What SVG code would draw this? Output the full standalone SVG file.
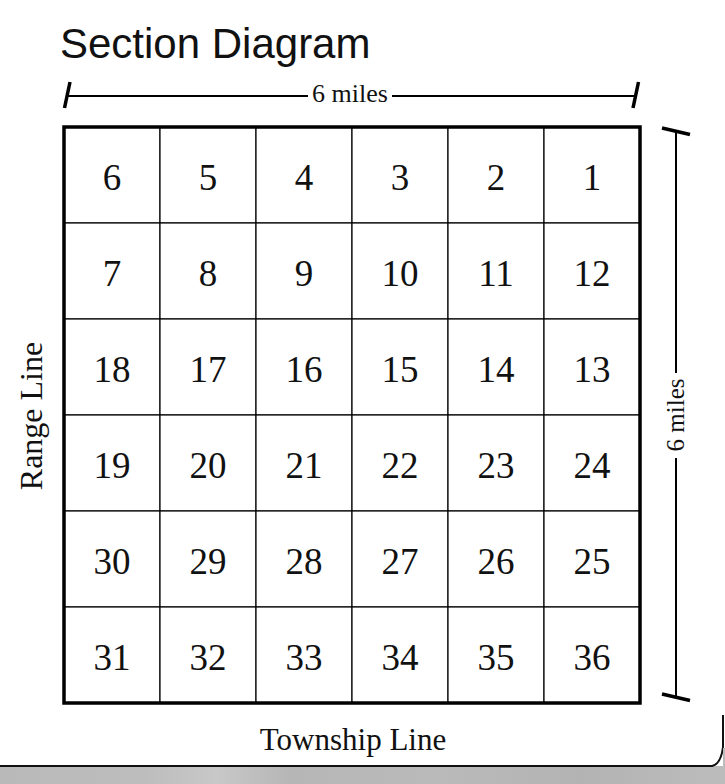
<svg xmlns="http://www.w3.org/2000/svg" width="725" height="784" viewBox="0 0 725 784">
<defs>
<style>
.num{font-family:"Liberation Serif","Times New Roman",serif;font-size:37px;fill:#111;text-anchor:middle}
.lbl{font-family:"Liberation Serif","Times New Roman",serif;fill:#111;text-anchor:middle}
.cell{fill:#fff;stroke:#000;stroke-width:1.2}
.dim{stroke:#000;stroke-width:2;fill:none}
.tick{stroke:#000;stroke-width:3.5;fill:none}
</style>
<linearGradient id="g" x1="0" y1="0" x2="1" y2="0">
<stop offset="0" stop-color="#b9b9b9"/>
<stop offset="0.2" stop-color="#bdbdbd"/>
<stop offset="0.3" stop-color="#c8c8c8"/>
<stop offset="0.4" stop-color="#b6b6b6"/>
<stop offset="0.6" stop-color="#bababa"/>
<stop offset="0.8" stop-color="#b3b3b3"/>
<stop offset="1" stop-color="#bcbcbc"/>
</linearGradient>
</defs>
<rect x="0" y="0" width="725" height="784" fill="#fff"/>
<rect x="0" y="766" width="725" height="18" fill="url(#g)"/>
<path d="M0,766 H712 Q721,764 723,747 L723,715" fill="none" stroke="#111" stroke-width="2"/>
<rect x="723" y="748" width="2" height="18" fill="#bbb"/>

<text x="60" y="58" font-family="'Liberation Sans',Arial,sans-serif" font-size="42" fill="#111">Section Diagram</text>

<g id="connectors">
<line class="dim" x1="66" y1="96" x2="308" y2="96"/>
<line class="dim" x1="392" y1="96" x2="637" y2="96"/>
<line class="tick" x1="64.5" y1="108" x2="70" y2="82"/>
<line class="tick" x1="633" y1="108" x2="638.5" y2="82"/>
<line class="dim" x1="676" y1="131" x2="676" y2="373"/>
<line class="dim" x1="676" y1="458" x2="676" y2="697"/>
<line class="tick" x1="662" y1="128" x2="690" y2="134.5"/>
<line class="tick" x1="662" y1="694" x2="690" y2="700.5"/>
</g>
<text class="lbl" x="350" y="102" font-size="26">6 miles</text>
<text class="lbl" font-size="25" transform="translate(684,415) rotate(-90)">6 miles</text>
<text class="lbl" font-size="32" transform="translate(42,416) rotate(-90)">Range Line</text>
<text class="lbl" x="353" y="750" font-size="31">Township Line</text>

<g id="grid">
<g id="s6"><rect class="cell" x="64" y="127" width="96" height="96"/><text class="num" x="112" y="190">6</text></g>
<g id="s5"><rect class="cell" x="160" y="127" width="96" height="96"/><text class="num" x="208" y="190">5</text></g>
<g id="s4"><rect class="cell" x="256" y="127" width="96" height="96"/><text class="num" x="304" y="190">4</text></g>
<g id="s3"><rect class="cell" x="352" y="127" width="96" height="96"/><text class="num" x="400" y="190">3</text></g>
<g id="s2"><rect class="cell" x="448" y="127" width="96" height="96"/><text class="num" x="496" y="190">2</text></g>
<g id="s1"><rect class="cell" x="544" y="127" width="96" height="96"/><text class="num" x="592" y="190">1</text></g>

<g id="s7"><rect class="cell" x="64" y="223" width="96" height="96"/><text class="num" x="112" y="286">7</text></g>
<g id="s8"><rect class="cell" x="160" y="223" width="96" height="96"/><text class="num" x="208" y="286">8</text></g>
<g id="s9"><rect class="cell" x="256" y="223" width="96" height="96"/><text class="num" x="304" y="286">9</text></g>
<g id="s10"><rect class="cell" x="352" y="223" width="96" height="96"/><text class="num" x="400" y="286">10</text></g>
<g id="s11"><rect class="cell" x="448" y="223" width="96" height="96"/><text class="num" x="496" y="286">11</text></g>
<g id="s12"><rect class="cell" x="544" y="223" width="96" height="96"/><text class="num" x="592" y="286">12</text></g>

<g id="s18"><rect class="cell" x="64" y="319" width="96" height="96"/><text class="num" x="112" y="382">18</text></g>
<g id="s17"><rect class="cell" x="160" y="319" width="96" height="96"/><text class="num" x="208" y="382">17</text></g>
<g id="s16"><rect class="cell" x="256" y="319" width="96" height="96"/><text class="num" x="304" y="382">16</text></g>
<g id="s15"><rect class="cell" x="352" y="319" width="96" height="96"/><text class="num" x="400" y="382">15</text></g>
<g id="s14"><rect class="cell" x="448" y="319" width="96" height="96"/><text class="num" x="496" y="382">14</text></g>
<g id="s13"><rect class="cell" x="544" y="319" width="96" height="96"/><text class="num" x="592" y="382">13</text></g>

<g id="s19"><rect class="cell" x="64" y="415" width="96" height="96"/><text class="num" x="112" y="478">19</text></g>
<g id="s20"><rect class="cell" x="160" y="415" width="96" height="96"/><text class="num" x="208" y="478">20</text></g>
<g id="s21"><rect class="cell" x="256" y="415" width="96" height="96"/><text class="num" x="304" y="478">21</text></g>
<g id="s22"><rect class="cell" x="352" y="415" width="96" height="96"/><text class="num" x="400" y="478">22</text></g>
<g id="s23"><rect class="cell" x="448" y="415" width="96" height="96"/><text class="num" x="496" y="478">23</text></g>
<g id="s24"><rect class="cell" x="544" y="415" width="96" height="96"/><text class="num" x="592" y="478">24</text></g>

<g id="s30"><rect class="cell" x="64" y="511" width="96" height="96"/><text class="num" x="112" y="574">30</text></g>
<g id="s29"><rect class="cell" x="160" y="511" width="96" height="96"/><text class="num" x="208" y="574">29</text></g>
<g id="s28"><rect class="cell" x="256" y="511" width="96" height="96"/><text class="num" x="304" y="574">28</text></g>
<g id="s27"><rect class="cell" x="352" y="511" width="96" height="96"/><text class="num" x="400" y="574">27</text></g>
<g id="s26"><rect class="cell" x="448" y="511" width="96" height="96"/><text class="num" x="496" y="574">26</text></g>
<g id="s25"><rect class="cell" x="544" y="511" width="96" height="96"/><text class="num" x="592" y="574">25</text></g>

<g id="s31"><rect class="cell" x="64" y="607" width="96" height="96"/><text class="num" x="112" y="670">31</text></g>
<g id="s32"><rect class="cell" x="160" y="607" width="96" height="96"/><text class="num" x="208" y="670">32</text></g>
<g id="s33"><rect class="cell" x="256" y="607" width="96" height="96"/><text class="num" x="304" y="670">33</text></g>
<g id="s34"><rect class="cell" x="352" y="607" width="96" height="96"/><text class="num" x="400" y="670">34</text></g>
<g id="s35"><rect class="cell" x="448" y="607" width="96" height="96"/><text class="num" x="496" y="670">35</text></g>
<g id="s36"><rect class="cell" x="544" y="607" width="96" height="96"/><text class="num" x="592" y="670">36</text></g>
</g>
<rect id="border" x="64" y="127" width="576" height="576" fill="none" stroke="#000" stroke-width="3.5"/>
</svg>
